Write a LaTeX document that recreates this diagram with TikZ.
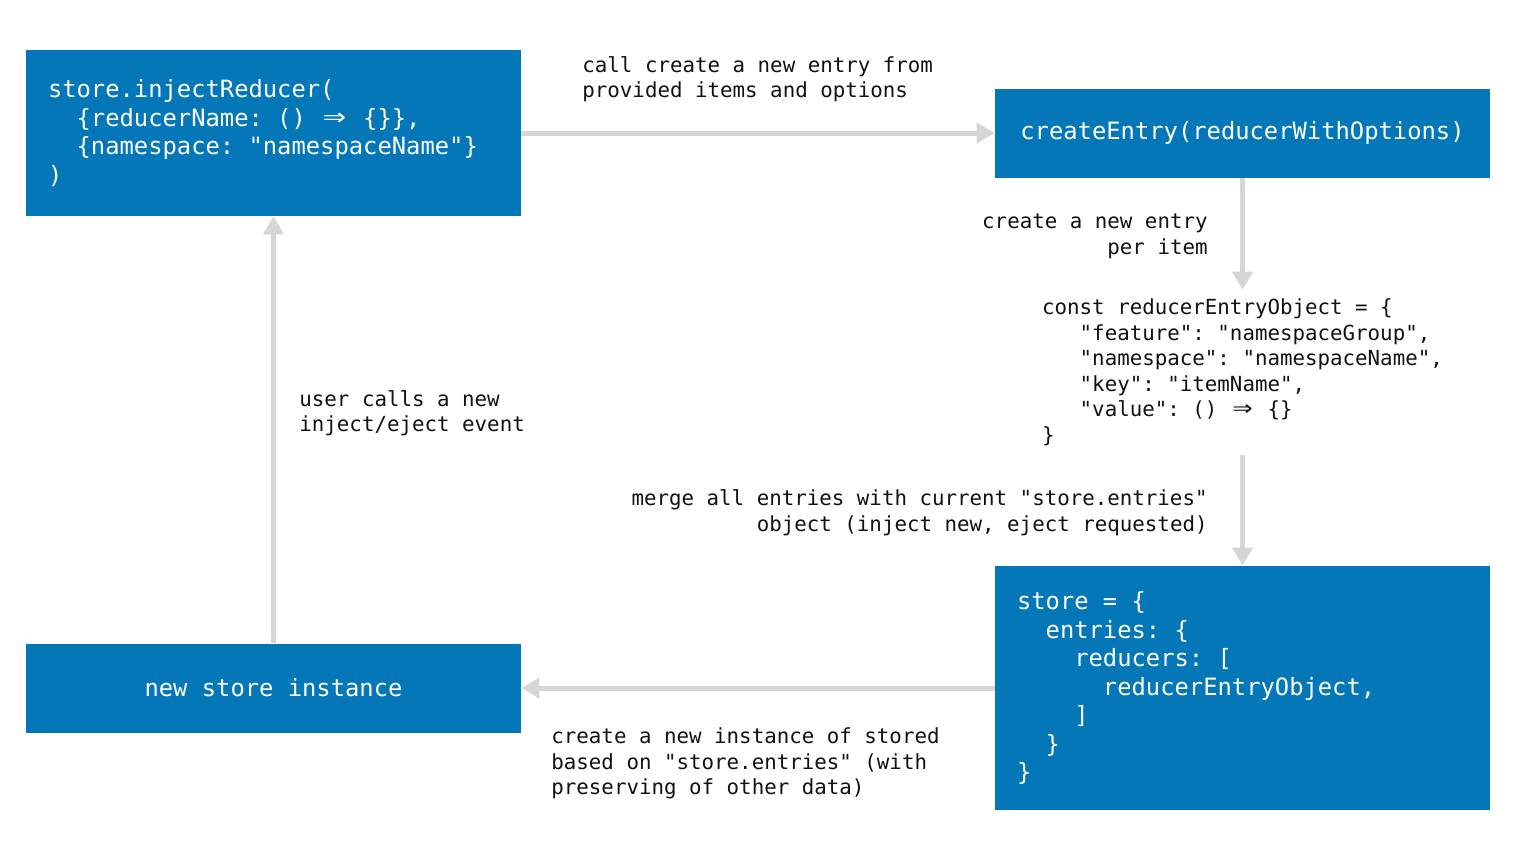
\documentclass[tikz,border=0pt]{standalone}
\usepackage{fontspec}
\setmonofont{DejaVu Sans Mono}
\usepackage{tikz}
\usetikzlibrary{arrows.meta}
\definecolor{BoxBlue}{HTML}{0377B8}
\definecolor{FlowGray}{HTML}{D6D6D6}
\definecolor{NoteInk}{HTML}{111111}
\newcommand{\codesize}{\fontsize{11.9}{14.25}\selectfont}
\newcommand{\notesize}{\fontsize{10.4}{12.75}\selectfont}
\newcommand{\fatarrow}{\makebox[1.204em]{\scalebox{1.6}[1.3]{⇒}}}

\begin{document}
\begin{tikzpicture}[x=0.5pt,y=-0.5pt, every node/.style={font=\ttfamily},
  box/.style={fill=BoxBlue, draw=none, text=white, font=\ttfamily\codesize, minimum width=247.5pt, inner sep=0pt},
  codebox/.style={box, inner xsep=11pt, text width=225.5pt, align=flush left},
  note/.style={text=NoteInk, font=\ttfamily\notesize, inner sep=0pt},
  flow/.style={draw=FlowGray, line width=2.5pt, -{Triangle[length=9pt,width=10pt]}}]
  \useasboundingbox (0,0) rectangle (1518,852);
  \node[codebox, minimum height=83pt] (inject) at (273.5,133)
    {store.injectReducer(\\~~\{reducerName: () \fatarrow{} \{\}\},\\~~\{namespace: "namespaceName"\}\\)};
  \node[box, minimum height=44.5pt] (create) at (1242.5,133) {createEntry(reducerWithOptions)};
  \node[note, align=left, minimum height=82.5pt] (obj) at (1242.5,372.5)
    {const reducerEntryObject = \{\\~~~"feature": "namespaceGroup",\\~~~"namespace": "namespaceName",\\~~~"key": "itemName",\\~~~"value": () \fatarrow{} \{\}\\\}};
  \node[codebox, minimum height=122pt] (store) at (1242.5,688)
    {store = \{\\~~entries: \{\\~~~~reducers: [\\~~~~~~reducerEntryObject,\\~~~~]\\~~\}\\\}};
  \node[box, minimum height=44.5pt] (newinst) at (273.5,688) {new store instance};
  \foreach \a/\b in {inject/create, create/obj, obj/store, store/newinst, newinst/inject}
    \draw[flow] (\a) -- (\b);
  \node[note, anchor=west, align=left] (callnote) at (582,79) {call create a new entry from\\provided items and options};
  \node[note, anchor=east, align=right] (pernote) at (1208,236.5) {create a new entry\\per item};
  \node[note, anchor=west, align=left] (usernote) at (299,413) {user calls a new\\inject/eject event};
  \node[note, anchor=east, align=right] (mergenote) at (1208,512.5) {merge all entries with current "store.entries"\\object (inject new, eject requested)};
  \node[note, anchor=west, align=left] (instnote) at (551,763.5) {create a new instance of stored\\based on "store.entries" (with\\preserving of other data)};
\end{tikzpicture}
\end{document}
